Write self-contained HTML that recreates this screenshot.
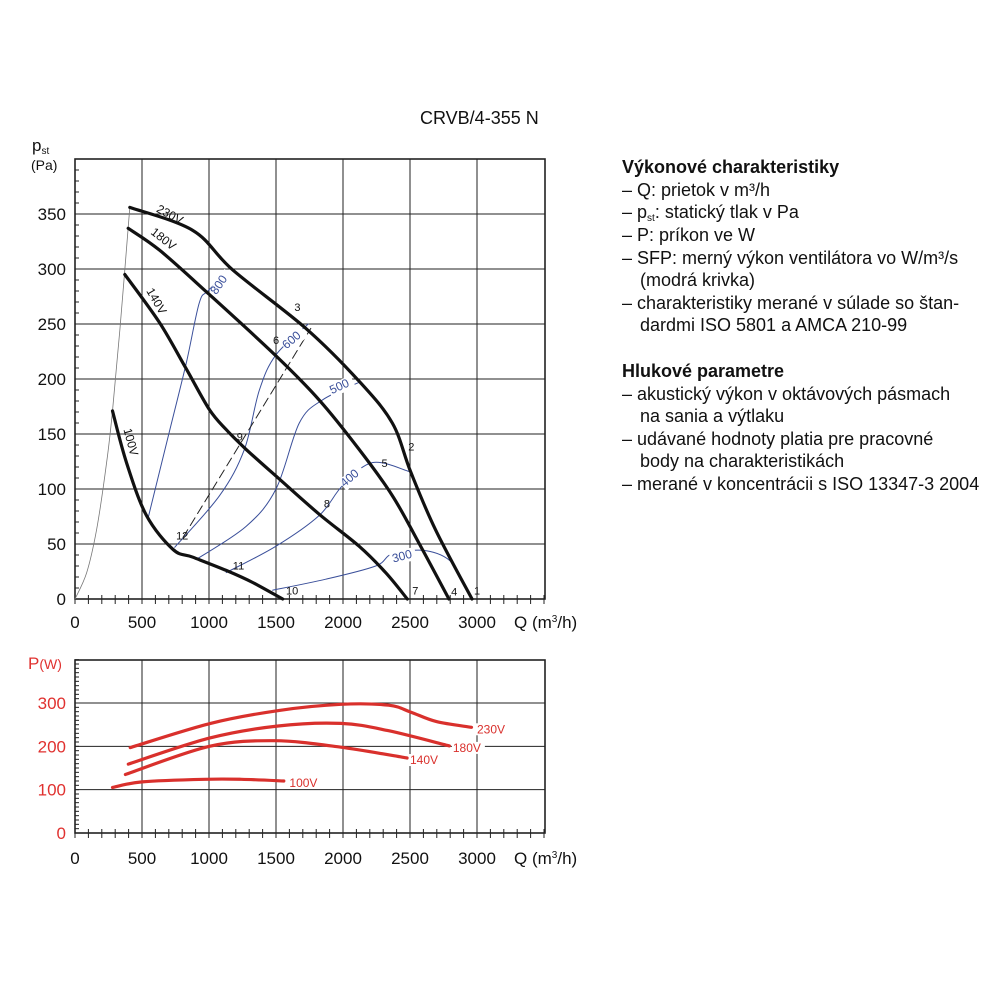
<!DOCTYPE html>
<html><head><meta charset="utf-8"><style>
body{margin:0;background:#fff}
svg{display:block;font-family:"Liberation Sans",Arial,sans-serif}
</style></head><body>
<svg id="c" width="1000" height="1000" viewBox="0 0 1000 1000" xmlns="http://www.w3.org/2000/svg">
<text x="420" y="124" font-size="18" fill="#111">CRVB/4-355 N</text>
<g id="txt" font-size="18" fill="#111">
<text x="622" y="173" font-weight="bold">Výkonové charakteristiky</text>
<text x="622" y="196">– Q: prietok v m³/h</text>
<text x="622" y="218">– p<tspan font-size="10" dy="3">st</tspan><tspan dy="-3">: statický tlak v Pa</tspan></text>
<text x="622" y="241">– P: príkon ve W</text>
<text x="622" y="264">– SFP: merný výkon ventilátora vo W/m³/s</text>
<text x="640" y="286">(modrá krivka)</text>
<text x="622" y="309">– charakteristiky merané v súlade so štan-</text>
<text x="640" y="331">dardmi ISO 5801 a AMCA 210-99</text>
<text x="622" y="377" font-weight="bold">Hlukové parametre</text>
<text x="622" y="400">– akustický výkon v oktávových pásmach</text>
<text x="640" y="422">na sania a výtlaku</text>
<text x="622" y="445">– udávané hodnoty platia pre pracovné</text>
<text x="640" y="467">body na charakteristikách</text>
<text x="622" y="490">– merané v koncentrácii s ISO 13347-3 2004</text>
</g>
<g id="topchart"></g>
<g id="botchart"></g>
</svg>
<script>
// ---- top chart data (Q m3/h, Pa) ----
const q230=[409,880,1178,1723,2120,2368,2504,2690,2963];
const p230=[356,335,299,246,198,160,116,63,0];
const q180=[397,632,992,1500,1822,2120,2368,2566,2790];
const p180=[337,317,278,221,181,136,94,51,0];
const q140=[372,632,831,1004,1128,1277,1525,1823,2120,2318,2480];
const p140=[295,251,209,172,154,136,109,77,48,24,0];
const q100=[280,384,533,732,880,1128,1326,1550];
const p100=[171,124,76,45,38,26,15,0];
const qSys=[0,87,161,236,280,335,409];
const pSys=[0,24,63,124,171,245,356];
const q800=[546,700,831,927,992,1140];
const p800=[74,150,215,269,280,297];
const q600=[744,1079,1264,1376,1500,1740];
const p600=[47,94,136,190,222,250];
const q500=[905,1277,1500,1674,1847,2120];
const p500=[36,66,100,160,181,197];
const q400=[1128,1500,1823,1996,2219,2492];
const p400=[24,48,76,103,124,116];
const q300=[1475,1872,2244,2368,2616,2814,2950];
const p300=[8,18,30,41,44,33,2];
const qDash=[806,1760];
const pDash=[56,246];
const xTicks=[0,500,1000,1500,2000,2500,3000];
const yTicks=[0,50,100,150,200,250,300,350];
const ptLabels=["1","2","3","4","5","6","7","8","9","10","11","12"];
const ptQ=[3000,2510,1660,2830,2310,1500,2540,1880,1230,1620,1220,800];
const ptP=[4,135,262,3,120,232,4,83,144,4,27,54];
// ---- bottom chart data (Q, W) ----
const bq230=[412,1011,1525,1984,2340,2505,2698,2959];
const bw230=[197,253,283,297,295,279,257,244];
const bq180=[398,1003,1516,1984,2340,2794];
const bw180=[159,219,247,253,236,201];
const bq140=[376,1003,1489,1984,2478];
const bw140=[135,200,213,198,173];
const bq100=[280,500,967,1242,1558];
const bw100=[105,118,124,124,120];
const wTicks=[0,100,200,300];

const NS="http://www.w3.org/2000/svg";
const X0=75,XS=134/1000;
const sx=q=>X0+q*XS;
const sy=p=>599-p*1.1;
const by=w=>833-w*0.4333;
function el(tag,attrs,parent){const e=document.createElementNS(NS,tag);for(const k in attrs)e.setAttribute(k,attrs[k]);parent.appendChild(e);return e;}
function smooth(xs,ys){const P=xs.map((x,i)=>[x,ys[i]]);let d="M"+P[0][0].toFixed(1)+","+P[0][1].toFixed(1);
 for(let i=0;i<P.length-1;i++){const p0=P[Math.max(0,i-1)],p1=P[i],p2=P[i+1],p3=P[Math.min(P.length-1,i+2)];
 const c1=[p1[0]+(p2[0]-p0[0])/6,p1[1]+(p2[1]-p0[1])/6],c2=[p2[0]-(p3[0]-p1[0])/6,p2[1]-(p3[1]-p1[1])/6];
 d+="C"+c1.map(v=>v.toFixed(1)).join(",")+" "+c2.map(v=>v.toFixed(1)).join(",")+" "+p2[0].toFixed(1)+","+p2[1].toFixed(1);}return d;}

const gTop=document.getElementById('topchart');
for(let v=50;v<=350;v+=50){const l=el('line',{x1:75,x2:545,y1:sy(v),y2:sy(v),stroke:'#222','stroke-width':1},gTop);

}
for(let q=500;q<=3000;q+=500){const l=el('line',{x1:sx(q),x2:sx(q),y1:159,y2:599,stroke:'#222','stroke-width':1},gTop);

}
for(let v=0;v<=400;v+=10){const tk=el('line',{x1:75,x2:79,y1:sy(v),y2:sy(v),stroke:'#222','stroke-width':1},gTop);

}
for(let q=0;q<=3500;q+=100){const tk=el('line',{x1:sx(q),x2:sx(q),y1:595,y2:604,stroke:'#222','stroke-width':1},gTop);

}
const fr=el('rect',{x:75,y:159,width:470,height:440,fill:'none',stroke:'#222','stroke-width':1.6},gTop);


yTicks.forEach(v=>{const e=el('text',{x:66,y:sy(v)+6,'font-size':17,'text-anchor':'end',fill:'#111'},gTop);e.textContent=v;

});
xTicks.forEach(v=>{const e=el('text',{x:sx(v),y:628,'font-size':17,'text-anchor':'middle',fill:'#111'},gTop);e.textContent=v;

});
let tt=el('text',{x:514,y:628,'font-size':17,fill:'#111'},gTop);tt.innerHTML='Q (m<tspan font-size="10" dy="-6">3</tspan><tspan dy="6">/h)</tspan>';


tt=el('text',{x:32,y:151,'font-size':17,fill:'#111'},gTop);tt.innerHTML='p<tspan font-size="10" dy="3">st</tspan>';


tt=el('text',{x:31,y:170,'font-size':14,fill:'#111'},gTop);tt.textContent='(Pa)';



function curve(g,xs,ys,fx,fy,stroke,w,name,dash){const p=el('path',{d:smooth(xs.map(fx),ys.map(fy)),fill:'none',stroke:stroke,'stroke-width':w,'stroke-linecap':'round'},g);if(dash)p.setAttribute('stroke-dasharray',dash);

return p;}
curve(gTop,qSys,pSys,sx,sy,'#777',0.8,'system-curve');
curve(gTop,q800,p800,sx,sy,'#3a4f9a',1,'sfp-800-curve');
curve(gTop,q600,p600,sx,sy,'#3a4f9a',1,'sfp-600-curve');
curve(gTop,q500,p500,sx,sy,'#3a4f9a',1,'sfp-500-curve');
curve(gTop,q400,p400,sx,sy,'#3a4f9a',1,'sfp-400-curve');
curve(gTop,q300,p300,sx,sy,'#3a4f9a',1,'sfp-300-curve');
curve(gTop,qDash,pDash,sx,sy,'#222',1,'dashed-line','9,5');
curve(gTop,q230,p230,sx,sy,'#111',3.2,'curve-230v');
curve(gTop,q180,p180,sx,sy,'#111',3.2,'curve-180v');
curve(gTop,q140,p140,sx,sy,'#111',3.2,'curve-140v');
curve(gTop,q100,p100,sx,sy,'#111',3.2,'curve-100v');
function lbl(g,x,y,s,txt,fill,rot,name){const e=el('text',{x:x,y:y,'font-size':s,fill:fill,'text-anchor':'middle'},g);if(rot)e.setAttribute('transform','rotate('+rot+' '+x+' '+y+')');e.textContent=txt;


return e;}
lbl(gTop,168,218,12,'230V','#111',28,'label-230v');
lbl(gTop,161,242,12,'180V','#111',38,'label-180v');
lbl(gTop,153,303,12,'140V','#111',60,'label-140v');
lbl(gTop,127,443,12,'100V','#111',75,'label-100v');
[['800',222,287,-55],['600',294,343,-40],['500',341,390,-25],['400',352,481,-40],['300',403,560,-15]].forEach(a=>{
const b=el('rect',{x:a[1]-13,y:a[2]-10,width:26,height:13,fill:'#fff'},gTop);b.setAttribute('transform','rotate('+a[3]+' '+a[1]+' '+(a[2]-4)+')');


lbl(gTop,a[1],a[2],12,a[0],'#3a4f9a',a[3],'sfp-label-'+a[0]);});
ptLabels.forEach((s,i)=>lbl(gTop,sx(ptQ[i]),sy(ptP[i]),11,s,'#111',0,'point-label-'+s));

const gBot=document.getElementById('botchart');
for(let v=100;v<=300;v+=100){const l=el('line',{x1:75,x2:545,y1:by(v),y2:by(v),stroke:'#222','stroke-width':1},gBot);

}
for(let q=500;q<=3000;q+=500){const l=el('line',{x1:sx(q),x2:sx(q),y1:660,y2:833,stroke:'#222','stroke-width':1},gBot);

}
for(let v=0;v<=400;v+=10){const k=el('line',{x1:75,x2:79,y1:by(v),y2:by(v),stroke:'#222','stroke-width':1},gBot);

}
for(let q=0;q<=3500;q+=100){const k=el('line',{x1:sx(q),x2:sx(q),y1:829,y2:838,stroke:'#222','stroke-width':1},gBot);

}
const fr2=el('rect',{x:75,y:660,width:470,height:173,fill:'none',stroke:'#222','stroke-width':1.6},gBot);


wTicks.forEach(v=>{const e=el('text',{x:66,y:by(v)+6,'font-size':17,'text-anchor':'end',fill:'#e0312f'},gBot);e.textContent=v;

});
xTicks.forEach(v=>{const e=el('text',{x:sx(v),y:864,'font-size':17,'text-anchor':'middle',fill:'#111'},gBot);e.textContent=v;

});
tt=el('text',{x:514,y:864,'font-size':17,fill:'#111'},gBot);tt.innerHTML='Q (m<tspan font-size="10" dy="-6">3</tspan><tspan dy="6">/h)</tspan>';


tt=el('text',{x:28,y:669,'font-size':17,fill:'#e0312f'},gBot);tt.innerHTML='P<tspan font-size="14">(W)</tspan>';


curve(gBot,bq230,bw230,sx,by,'#d9302c',3.2,'power-230v');
curve(gBot,bq180,bw180,sx,by,'#d9302c',3.2,'power-180v');
curve(gBot,bq140,bw140,sx,by,'#d9302c',3.2,'power-140v');
curve(gBot,bq100,bw100,sx,by,'#d9302c',3.2,'power-100v');
[['230V',3000,244],['180V',2820,201],['140V',2500,173],['100V',1600,120]].forEach(a=>{
const b=el('rect',{x:sx(a[1])-1,y:by(a[2])-4,width:33,height:12,fill:'#fff'},gBot);


const e=el('text',{x:sx(a[1]),y:by(a[2])+6,'font-size':12,fill:'#d9302c'},gBot);e.textContent=a[0];

});
</script>
</body></html>
